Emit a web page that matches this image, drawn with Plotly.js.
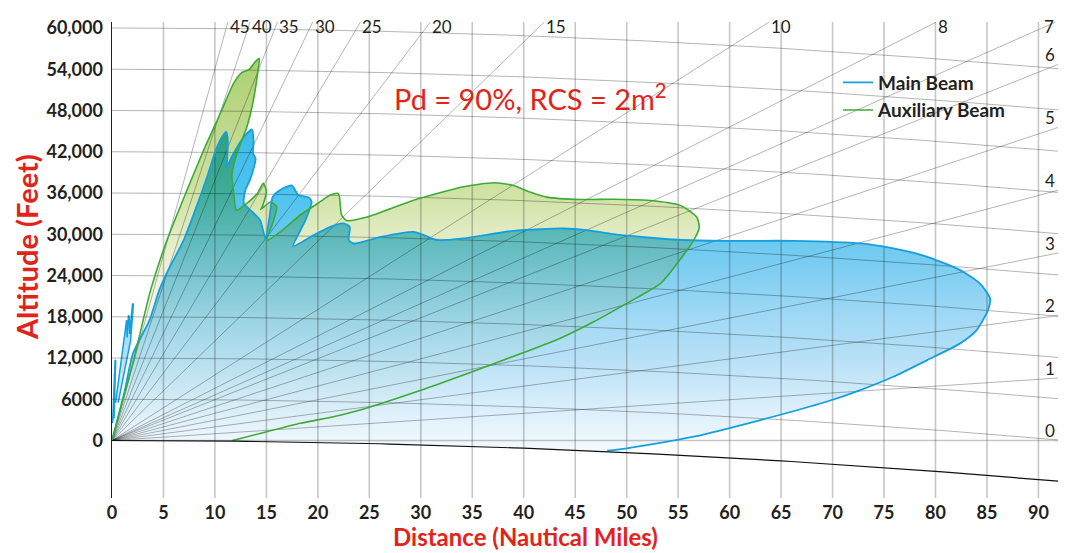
<!DOCTYPE html>
<html><head><meta charset="utf-8">
<script src="https://cdn.plot.ly/plotly-3.0.1.min.js"></script>
<style>
html,body{margin:0;padding:0;background:#fff;}
#chart{width:1072px;height:553px;}
.traceauxFill .js-fill{mix-blend-mode:multiply;}
</style></head><body><div id="chart"></div>
<script>
// ---------------- data ----------------
const X_TICKS = [0,5,10,15,20,25,30,35,40,45,50,55,60,65,70,75,80,85,90];
const Y_TICKS = [0,6000,12000,18000,24000,30000,36000,42000,48000,54000,60000];
const Y_TICK_LABELS = ['0','6000','12,000','18,000','24,000','30,000','36,000','42,000','48,000','54,000','60,000'];
const RAY_ANGLES = [0,1,2,3,4,5,6,7,8,10,15,20,25,30,35,40,45];
const ALT_LINES = [6000,12000,18000,24000,30000,36000,42000,48000,54000,60000];

// Main beam coverage outline (distance nmi, height ft)
const MAIN_D = [0,1.2,2.04,3.65,4.6,5.4,6.95,8.4,9.3,10.1,10.7,11.1,11.25,11.2,11.15,11.8,12.8,13.6,13.75,13.7,13.95,13.8,13.4,12.95,12.8,13.6,14.4,14.9,15.3,15.6,16.3,17.45,18.1,19.1,19.4,18.8,17.6,19.6,21.2,22.5,23.1,23.0,23.5,26.1,29.3,30.3,31.6,34.15,39.0,43.9,46.1,48.7,52.0,55.0,59.7,66.2,72.7,75.9,79.2,82.4,84.3,85.3,85.1,84.0,82.4,79.2,75.9,72.7,69.4,63.0,56.5,50.0,48.1];
const MAIN_H = [0,7000,12670,17500,21900,24600,29100,34800,38600,42300,44200,44900,43700,41200,39800,41750,44150,45230,43700,41750,41000,39800,37900,36400,34500,33300,32000,29400,32500,35400,36400,37100,35700,35350,34700,32050,28270,29870,31080,31570,31080,29140,28660,29620,30350,29870,29140,29390,30500,30840,30600,30010,29530,29200,29040,29040,28660,27930,26720,24780,22850,20670,18970,16060,14130,11700,9270,7340,5640,2980,550,-1130,-1480];

// Main beam: narrow low-range lobes near the radar (separate closed shapes)
const SPIKE_D = [0.06,0.3,0.36,0.2,null,0.35,1.35,1.42,1.47,1.6,1.67,1.72,2.0,2.08,1.8,0.6];
const SPIKE_H = [2500,11700,11600,3200,null,5500,17400,17500,15000,18200,18000,15500,19900,19800,14500,5500];

// Auxiliary beam coverage outline (distance nmi, height ft)
const AUX_D = [0,2.1,3.75,5.34,7.28,8.9,10.52,11.8,12.6,13.3,13.9,14.3,14.15,13.6,13.1,12.5,11.9,11.65,11.8,12.1,13.1,14.1,14.7,15.0,14.6,14.45,15.4,16.0,15.7,15.05,16.35,18.3,20.2,21.2,22.0,22.3,22.8,24.8,29.3,34.15,37.1,39.0,40.6,42.25,45.5,48.7,52.0,55.2,56.8,57.05,56.5,54.9,53.3,50.0,46.8,43.5,40.0,35.0,30.0,24.1,21.5,18.3,15.05,11.7];
const AUX_H = [0,11700,21870,29140,36400,42200,47560,51900,53500,53950,55050,55600,53400,48500,45600,43200,40500,38500,36400,33500,34500,35900,37400,36200,34000,33600,34700,34000,32000,29100,30350,32800,34700,35700,35900,32800,32000,32500,34950,36900,37500,37100,36150,35400,35050,35100,34950,34200,32500,31000,29100,25750,22850,19940,17270,14850,12800,10000,7300,4430,3460,2500,1280,0];

// ---------------- geometry / style ----------------
const FT_PER_NMI = 6076;
const EARTH_K = 0.7;          // earth-curvature drop, ft per nmi^2
const X_MAX = 91.9, Y_MIN = -8360, Y_MAX = 60870;
const FONT = 'Lato, "Open Sans", sans-serif';
const DARK = '#231f20', RED = '#e2231a';
const BLUE = '#169fdf', GREEN = '#3daa36';
const BLUE_SCALE = [[0,'#f5fafe'],[0.034,'#eef7fd'],[0.162,'#d5ecfa'],[0.291,'#b7e0f6'],[0.419,'#a0d9f5'],[0.547,'#82cff2'],[0.675,'#68c8ef'],[0.803,'#4ec3ee'],[1,'#3bbbea']];
const BLUE_GRAD = {type: 'vertical', start: -1600, stop: 45200, colorscale: BLUE_SCALE};

function raySlope(a){ const f = a <= 6 ? 0.932 : 0.89; return Math.tan(a*Math.PI/180)*FT_PER_NMI*f; }
const earth = d => -EARTH_K*d*d;

// blue fill polygon: outline then back along the earth surface
const mainFillX = MAIN_D.slice(), mainFillY = MAIN_H.slice();
for (let d = MAIN_D[MAIN_D.length-1] - 2; d > 0; d -= 2) { mainFillX.push(d); mainFillY.push(earth(d)); }
mainFillX.push(0); mainFillY.push(0);

// grid: vertical distance lines + zero-elevation line
const vx = [], vy = [];
X_TICKS.filter(v => v > 0).forEach(v => { vx.push(v, v, null); vy.push(Y_MIN, Y_MAX, null); });
vx.push(0, X_MAX, null); vy.push(0, 0, null);

// altitude lines (curved) and elevation rays
const gx = [], gy = [];
ALT_LINES.forEach(h => { for (let d = 0; d <= 92; d += 1) { gx.push(d); gy.push(h + earth(d)); } gx.push(null); gy.push(null); });
const rayAnn = [];
RAY_ANGLES.forEach(a => {
  const s = raySlope(a);
  let dEnd = X_MAX, yEnd = 0;
  if (a > 0) { dEnd = Math.min(X_MAX, Y_MAX/s); yEnd = s*dEnd; gx.push(0, dEnd, null); gy.push(0, yEnd, null); }
  const lab = {text: String(a), showarrow: false, font: {family: FONT, size: 17, color: DARK}, xref: 'x', yref: 'y'};
  if (yEnd >= Y_MAX - 1) {
    Object.assign(lab, {x: dEnd, y: Y_MAX, yanchor: 'middle', yshift: -4, xanchor: dEnd > 88 ? 'right' : 'left'});
  } else {
    Object.assign(lab, {x: X_MAX, y: yEnd, xanchor: 'right', yanchor: 'middle', yshift: 10, xshift: -1});
  }
  rayAnn.push(lab);
});

const ex = [], ey = [];
for (let d = 0; d <= 92; d += 1) { ex.push(d); ey.push(earth(d)); }

const traces = [
  {x: mainFillX, y: mainFillY, type: 'scatter', mode: 'lines', fill: 'toself', showlegend: false, hoverinfo: 'skip',
   line: {width: 0, shape: 'spline', smoothing: 0.6, color: 'rgba(0,0,0,0)'}, fillgradient: BLUE_GRAD},
  {x: SPIKE_D, y: SPIKE_H, type: 'scatter', mode: 'lines', fill: 'toself', showlegend: false, hoverinfo: 'skip',
   line: {width: 1.5, color: BLUE}, fillgradient: BLUE_GRAD},
  {x: AUX_D, y: AUX_H, uid: 'auxFill', type: 'scatter', mode: 'lines', fill: 'toself', showlegend: false, hoverinfo: 'skip',
   line: {width: 0, shape: 'spline', smoothing: 0.6, color: 'rgba(0,0,0,0)'},
   fillgradient: {type: 'vertical', start: 0, stop: 55600,
     colorscale: [[0,'#ffffff'],[0.25,'#fbfdf6'],[0.43,'#edf3dc'],[0.54,'#e1ecc4'],[0.65,'#d0e2a4'],[0.81,'#bfd98c'],[1,'#acd073']]}},
  {x: vx, y: vy, type: 'scatter', mode: 'lines', showlegend: false, hoverinfo: 'skip', line: {color: 'rgba(0,0,0,0.22)', width: 1.6}},
  {x: gx, y: gy, type: 'scatter', mode: 'lines', showlegend: false, hoverinfo: 'skip', line: {color: 'rgba(0,0,0,0.33)', width: 0.9}},
  {x: MAIN_D, y: MAIN_H, name: 'Main Beam', type: 'scatter', mode: 'lines', legendgroup: 'a', hoverinfo: 'skip',
   line: {color: BLUE, width: 1.8, shape: 'spline', smoothing: 0.6}},
  {x: AUX_D, y: AUX_H, name: 'Auxiliary Beam', type: 'scatter', mode: 'lines', legendgroup: 'b', hoverinfo: 'skip',
   line: {color: GREEN, width: 1.6, shape: 'spline', smoothing: 0.6}},
  {x: ex, y: ey, type: 'scatter', mode: 'lines', showlegend: false, hoverinfo: 'skip', line: {color: '#111', width: 1.2}}
];

const annotations = rayAnn.concat([
  {text: 'Pd = 90%, RCS = 2m<sup>2</sup>', xref: 'paper', yref: 'paper', x: 0.4429, y: 0.8424, showarrow: false,
   xanchor: 'center', yanchor: 'middle', font: {family: FONT, size: 29, color: RED}},
  {text: 'Distance (Nautical Miles)', xref: 'paper', yref: 'paper', x: 0.4376, y: -0.0819, showarrow: false,
   xanchor: 'center', yanchor: 'middle', font: {family: FONT, size: 24, color: RED, weight: 'bold'}},
  {text: 'Altitude (Feet)', xref: 'paper', yref: 'paper', x: -0.0909, y: 0.5273, showarrow: false, textangle: -90,
   xanchor: 'center', yanchor: 'middle', font: {family: FONT, size: 29, color: RED, weight: 'bold'}}
]);

const layout = {
  width: 1072, height: 553,
  margin: {l: 112, r: 14, t: 22, b: 55},
  paper_bgcolor: '#fff', plot_bgcolor: '#fff',
  showlegend: true,
  legend: {x: 0.7675, xanchor: 'left', y: 0.9128, yanchor: 'top', bgcolor: 'rgba(0,0,0,0)', tracegroupgap: 0,
           font: {family: FONT, size: 19, color: DARK, weight: 'bold'}},
  xaxis: {range: [0, X_MAX], tickvals: X_TICKS, ticktext: X_TICKS.map(String), showgrid: false, zeroline: false,
          showline: false, ticks: '', ticklabelstandoff: 2, tickfont: {family: FONT, size: 18, color: DARK, weight: 'bold'}},
  yaxis: {range: [Y_MIN, Y_MAX], tickvals: Y_TICKS, ticktext: Y_TICK_LABELS, showgrid: false, zeroline: false,
          showline: true, linecolor: DARK, linewidth: 1.5, layer: 'above traces', ticks: '', ticklabelstandoff: 4,
          tickfont: {family: FONT, size: 18, color: DARK, weight: 'bold'}},
  annotations: annotations
};

Plotly.newPlot('chart', traces, layout, {displayModeBar: false, staticPlot: true});
</script></body></html>
